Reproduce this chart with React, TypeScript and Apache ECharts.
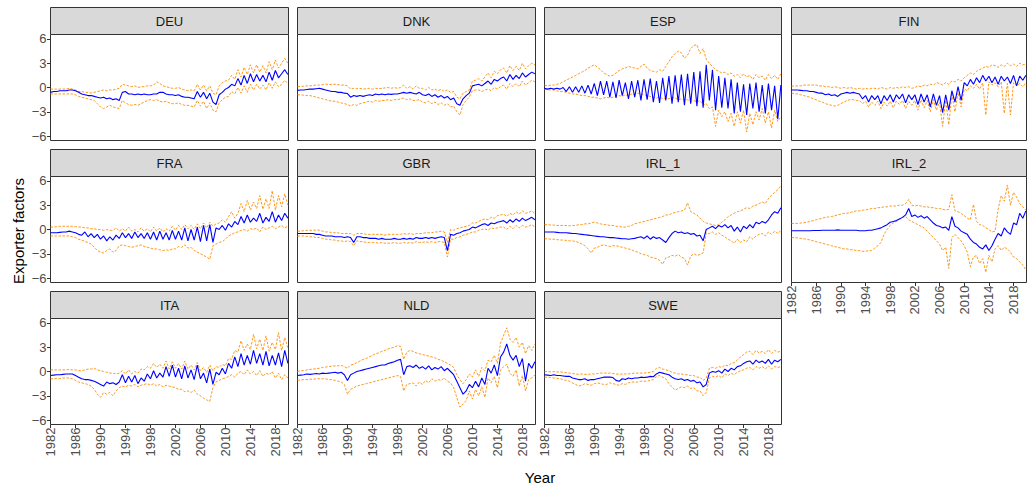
import React, { useEffect, useRef } from "react";
import * as echarts from "echarts";

// Time grid: half-yearly points, 1982.0 .. 2020.0
const years: number[] = Array.from({ length: 77 }, (_, i) => 1982 + i * 0.5);
const xTicks = [1982, 1986, 1990, 1994, 1998, 2002, 2006, 2010, 2014, 2018];
const yTicks = [-6, -3, 0, 3, 6];

// ---- DEU
const deuMid = [
  -0.6, -0.5, -0.5, -0.4, -0.4, -0.4, -0.3, -0.3, -0.4, -0.6,
  -0.8, -0.9, -1.0, -1.0, -1.1, -1.2, -1.3, -1.2, -1.4, -1.3,
  -1.5, -1.4, -1.6, -0.6, -0.5, -0.8, -0.8, -0.9, -0.8, -0.9,
  -0.8, -0.9, -0.9, -0.8, -0.8, -0.6, -0.6, -0.8, -0.9, -0.9,
  -1.0, -0.9, -1.1, -1.2, -1.2, -1.3, -1.4, -0.5, -1.2, -0.6,
  -1.4, -0.7, -1.8, -2.1, -0.9, -0.6, -0.2, 0.0, 0.4, 0.2,
  1.1, 0.3, 1.5, 0.5, 1.7, 0.7, 1.6, 0.8, 1.5, 0.7,
  1.9, 0.9, 2.1, 1.2, 1.7, 2.2, 1.6,
];
const deuHi = [
  -0.2, -0.2, -0.2, -0.2, -0.2, -0.2, -0.1, -0.2, -0.3, -0.5,
  -0.5, -0.6, -0.6, -0.7, -0.6, -0.5, -0.4, -0.3, -0.4, -0.3,
  -0.3, -0.2, -0.1, 0.4, 0.3, 0.2, 0.1, 0.2, 0.0, 0.1,
  0.1, 0.2, 0.2, 0.3, 0.7, 0.5, 0.2, 0.1, 0.0, -0.1,
  -0.1, 0.0, -0.2, -0.3, -0.4, -0.3, -0.4, 0.4, -0.3, 0.3,
  -0.4, 0.2, -0.7, -0.9, 0.2, 0.6, 0.8, 0.9, 1.5, 1.0,
  2.2, 1.3, 2.5, 1.6, 2.8, 1.8, 2.8, 1.9, 2.7, 1.8,
  3.2, 2.2, 3.4, 2.4, 3.0, 3.6, 3.0,
];
const deuLo = [
  -0.8, -0.8, -0.8, -0.8, -0.8, -0.8, -0.8, -0.8, -0.9, -1.1,
  -1.2, -1.3, -1.4, -1.5, -1.6, -2.0, -2.4, -2.6, -2.4, -2.2,
  -2.4, -2.5, -2.6, -1.6, -1.9, -2.1, -2.2, -2.1, -2.2, -2.0,
  -1.8, -1.6, -1.5, -1.6, -1.5, -1.7, -1.8, -1.7, -1.9, -2.0,
  -2.0, -1.9, -2.1, -2.2, -2.2, -2.3, -2.4, -1.6, -2.3, -1.7,
  -2.6, -1.9, -2.8, -3.0, -1.9, -1.5, -1.2, -1.1, -0.5, -0.8,
  0.0, -0.7, 0.2, -0.6, 0.4, -0.3, 0.4, -0.2, 0.3, -0.3,
  0.6, -0.1, 0.7, 0.1, 0.4, 0.9, 0.5,
];

// ---- DNK
const dnkMid = [
  -0.35, -0.3, -0.3, -0.25, -0.2, -0.2, -0.15, -0.1, -0.2, -0.3,
  -0.4, -0.5, -0.5, -0.6, -0.6, -0.7, -0.75, -1.2, -1.0, -1.1,
  -1.0, -1.1, -1.0, -0.9, -1.0, -0.8, -0.9, -0.8, -0.9, -0.8,
  -0.85, -0.8, -0.8, -0.7, -0.6, -0.7, -0.6, -0.7, -0.8, -0.6,
  -0.9, -1.0, -0.8, -1.1, -0.9, -1.2, -1.0, -1.3, -1.1, -1.5,
  -1.3, -2.0, -2.2, -1.4, -1.0, -0.7, 0.2, 0.3, 0.4, 0.2,
  0.5, 0.8, 0.4, 1.0, 0.8, 1.1, 1.3, 0.8, 1.6, 1.0,
  1.5, 1.1, 1.8, 1.3, 1.6, 1.9, 1.7,
];
const dnkHi = [
  0.1, 0.15, 0.15, 0.2, 0.2, 0.25, 0.3, 0.3, 0.35, 0.4,
  0.4, 0.35, 0.4, 0.35, 0.3, 0.3, 0.2, -0.2, -0.1, -0.15,
  -0.1, -0.2, -0.15, -0.1, -0.2, -0.1, -0.15, -0.1, -0.05, 0.0,
  -0.1, 0.0, -0.1, 0.0, 0.3, -0.1, 0.1, -0.2, 0.2, -0.1,
  -0.1, -0.3, 0.0, -0.3, -0.2, -0.4, -0.2, -0.5, -0.3, -0.6,
  -0.5, -1.2, -1.4, -0.7, -0.5, -0.3, 0.8, 0.9, 1.1, 0.8,
  1.3, 1.8, 1.2, 2.0, 1.7, 2.2, 2.4, 1.8, 2.7, 2.1,
  2.6, 2.1, 3.0, 2.3, 2.7, 3.0, 2.8,
];
const dnkLo = [
  -0.9, -0.9, -0.95, -1.0, -1.0, -1.1, -1.2, -1.3, -1.4, -1.5,
  -1.6, -1.7, -1.7, -1.8, -1.9, -2.0, -2.1, -2.3, -2.1, -2.2,
  -2.0, -1.9, -1.8, -1.7, -1.8, -1.6, -1.7, -1.6, -1.6, -1.5,
  -1.6, -1.5, -1.5, -1.4, -1.3, -1.5, -1.4, -1.6, -1.6, -1.5,
  -1.8, -1.9, -1.7, -2.0, -1.8, -2.1, -1.9, -2.2, -2.0, -2.4,
  -2.3, -3.0, -3.4, -2.1, -1.6, -1.2, -0.4, -0.3, -0.3, -0.5,
  -0.3, -0.2, -0.4, 0.0, -0.2, 0.1, 0.3, -0.2, 0.5, 0.1,
  0.5, 0.1, 0.8, 0.3, 0.6, 0.9, 0.7,
];

// ---- ESP
const espMid = [
  -0.1, -0.2, -0.1, -0.2, -0.1, -0.2, 0.0, -0.5, 0.1, -0.6,
  0.1, -0.6, 0.2, -0.7, 0.3, -0.8, 0.5, -1.0, 0.8, -0.9,
  0.8, -1.2, 0.7, -1.3, 0.9, -1.0, 0.6, -1.4, 0.8, -1.2,
  0.9, -1.6, 1.0, -1.5, 1.1, -1.8, 0.8, -1.9, 1.2, -1.6,
  1.4, -2.0, 1.5, -1.8, 1.6, -2.2, 1.7, -2.0, 1.9, -2.3,
  2.0, -2.5, 2.8, -1.6, 2.2, -2.8, 1.4, -2.5, 1.2, -2.6,
  1.0, -3.2, 0.6, -3.0, 0.4, -3.4, 0.5, -2.6, 0.6, -3.0,
  0.3, -3.2, 0.5, -2.8, 0.2, -3.9, 0.3,
];
const espHi = [
  0.3, 0.2, 0.3, 0.3, 0.4, 0.5, 0.7, 0.9, 1.1, 1.3,
  1.5, 1.7, 1.9, 2.1, 2.4, 2.6, 2.8, 2.5, 2.2, 1.8,
  1.6, 1.4, 1.5, 1.8, 2.1, 2.3, 2.4, 2.6, 2.5, 2.4,
  2.3, 2.6, 2.9, 2.4, 2.1, 2.0, 1.9, 2.2, 2.0, 2.6,
  3.2, 3.8, 4.2, 4.5, 4.3, 3.6, 4.0, 4.8, 5.2, 5.3,
  4.2, 4.8, 3.5, 3.0, 2.6, 2.2, 2.0, 1.8, 1.9, 1.6,
  1.8, 1.4, 1.6, 1.2, 1.7, 1.3, 1.5, 1.0, 1.6, 1.2,
  1.4, 0.9, 1.6, 1.1, 1.5, 1.0, 1.7,
];
const espLo = [
  -0.2, -0.3, -0.3, -0.3, -0.4, -0.5, -0.5, -0.6, -0.7, -0.8,
  -0.8, -0.9, -1.0, -1.0, -1.1, -1.2, -1.2, -1.3, -1.4, -1.3,
  -1.2, -1.3, -1.2, -1.1, -1.0, -1.1, -0.9, -1.0, -0.8, -0.9,
  -0.7, -0.8, -0.9, -1.0, -1.1, -1.2, -1.3, -1.2, -1.4, -1.3,
  -1.4, -1.2, -1.3, -1.5, -1.4, -1.6, -1.5, -1.7, -1.6, -1.8,
  -1.6, -2.2, -2.0, -2.6, -2.4, -4.8, -2.8, -3.6, -3.0, -4.2,
  -3.2, -4.8, -3.0, -4.4, -2.8, -5.5, -3.2, -4.6, -3.0, -4.0,
  -2.6, -4.4, -3.0, -5.0, -2.8, -4.2, -3.6,
];

// ---- FIN
const finMid = [
  -0.3, -0.3, -0.3, -0.35, -0.4, -0.4, -0.5, -0.5, -0.6, -0.7,
  -0.7, -0.9, -0.8, -1.0, -0.9, -1.1, -0.8, -0.7, -0.6, -0.7,
  -0.6, -0.7, -0.8, -1.4, -1.0, -1.8, -1.0, -1.5, -1.0, -2.0,
  -1.0, -1.6, -0.9, -1.8, -0.9, -1.4, -0.8, -1.9, -0.9, -1.5,
  -0.9, -2.1, -0.8, -1.8, -0.9, -2.4, -0.8, -2.2, -1.0, -3.1,
  -0.9, -2.8, -0.4, -1.8, 0.1, -1.6, 0.6, 0.2, 1.0, 0.4,
  1.2, 0.6, 1.5, 0.8, 1.4, 0.6, 1.3, 0.4, 1.4, 0.8,
  1.3, 0.5, 1.5, 0.2, 1.4, 0.9, 1.5,
];
const finHi = [
  0.15, 0.2, 0.2, 0.2, 0.3, 0.3, 0.3, 0.3, 0.3, 0.2,
  0.2, 0.1, 0.1, 0.0, 0.1, 0.0, -0.1, 0.0, -0.1, 0.0,
  -0.1, -0.2, -0.1, -0.2, -0.1, -0.2, -0.1, -0.1, -0.2, 0.0,
  -0.1, -0.2, 0.0, -0.1, 0.0, -0.1, 0.1, 0.0, 0.1, -0.1,
  0.0, 0.2, 0.1, 0.3, 0.2, 0.4, 0.3, 0.6, 0.5, 0.3,
  0.6, 0.4, 0.8, 0.7, 1.0, 0.8, 1.2, 1.5, 1.8, 1.6,
  2.0, 2.2, 2.4, 2.6, 2.5, 2.8, 2.7, 2.5, 2.8, 2.6,
  3.0, 2.7, 2.9, 2.6, 3.0, 2.8, 2.9,
];
const finLo = [
  -0.7, -0.75, -0.8, -0.9, -1.0, -1.1, -1.2, -1.4, -1.5, -1.7,
  -1.8, -2.0, -2.1, -2.2, -2.3, -2.2, -2.0, -1.8, -1.6, -1.5,
  -1.5, -1.6, -1.6, -2.0, -1.7, -2.4, -1.8, -2.2, -1.7, -2.6,
  -1.8, -2.3, -1.7, -2.5, -1.7, -2.1, -1.6, -2.6, -1.7, -2.2,
  -1.6, -2.8, -1.5, -2.5, -1.6, -3.0, -1.5, -2.8, -1.8, -4.8,
  -1.6, -4.6, -0.9, -3.0, -0.6, -2.4, -0.2, -0.4, 0.2, -0.1,
  0.4, -0.2, 0.6, -3.4, 0.7, 0.3, 0.6, 0.1, 0.7, -3.2,
  0.5, -3.4, 0.6, 0.2, 0.5, 0.1, 0.6,
];

// ---- FRA
const fraMid = [
  -0.4, -0.4, -0.4, -0.35, -0.3, -0.3, -0.2, -0.3, -0.4, -0.6,
  -0.7, -0.3, -0.9, -0.5, -1.0, -0.6, -1.2, -0.8, -1.4, -0.9,
  -1.3, -0.7, -1.1, -0.4, -1.0, -0.5, -1.1, -0.3, -1.0, -0.5,
  -1.1, -0.4, -1.2, -0.3, -1.3, -0.2, -1.2, -0.4, -1.3, -0.1,
  -1.2, -0.2, -1.3, 0.2, -1.4, 0.0, -1.3, 0.3, -1.5, 0.5,
  -1.4, 0.6, -1.6, 0.2, 0.0, 0.5, -0.1, 0.7, 0.3, 1.0,
  0.6, 1.6, 0.8, 1.8, 0.9, 1.4, 1.0, 2.0, 0.8, 1.5,
  1.0, 2.2, 0.9, 1.8, 1.1, 2.0, 1.4,
];
const fraHi = [
  0.3, 0.3, 0.35, 0.4, 0.4, 0.4, 0.4, 0.4, 0.35, 0.3,
  0.3, 0.2, 0.2, 0.1, 0.1, 0.0, 0.0, -0.1, 0.0, -0.1,
  -0.1, 0.2, -0.2, 0.1, -0.2, 0.3, -0.2, 0.0, -0.3, 0.2,
  -0.2, 0.1, -0.3, 0.3, -0.2, 0.2, -0.3, 0.1, -0.2, 0.4,
  -0.1, 0.5, 0.0, 0.6, 0.1, 0.5, 0.0, 0.7, 0.1, 0.8,
  0.2, 0.9, 0.4, 0.7, 0.8, 1.2, 0.9, 1.6, 2.2, 1.4,
  2.0, 3.2, 2.2, 3.6, 2.4, 3.4, 2.6, 4.2, 2.5, 3.8,
  2.6, 4.8, 2.4, 4.2, 2.8, 4.4, 3.0,
];
const fraLo = [
  -0.8, -0.8, -0.8, -0.8, -0.8, -0.8, -0.8, -0.9, -1.0, -1.2,
  -1.3, -1.5, -1.6, -1.8, -2.2, -2.6, -2.8, -2.9, -2.6, -2.4,
  -2.8, -2.6, -2.0, -1.9, -2.0, -2.1, -2.2, -2.1, -2.0, -1.9,
  -2.1, -2.2, -2.3, -2.4, -2.4, -2.5, -2.6, -2.5, -2.6, -2.4,
  -2.4, -2.1, -2.2, -1.9, -2.3, -2.2, -2.6, -2.8, -3.0, -3.2,
  -3.4, -3.7, -2.0, -1.8, -1.6, -1.5, -1.2, -0.8, -0.6, -0.4,
  -0.3, -0.1, 0.0, -0.2, 0.1, 0.0, 0.2, -0.3, 0.3, 0.0,
  0.2, 0.4, 0.1, 0.3, 0.5, 0.2, 0.4,
];

// ---- GBR
const gbrMid = [
  -0.5, -0.5, -0.5, -0.5, -0.5, -0.5, -0.6, -0.6, -0.7, -0.8,
  -0.8, -0.8, -0.9, -0.9, -0.9, -1.0, -0.9, -1.0, -1.6, -0.9,
  -0.9, -1.0, -1.0, -1.1, -1.1, -1.1, -1.2, -1.1, -1.2, -1.2,
  -1.2, -1.1, -1.2, -1.2, -1.1, -1.2, -1.1, -1.2, -1.0, -1.1,
  -1.1, -1.0, -1.1, -1.0, -1.1, -1.0, -0.9, -1.0, -2.6, -0.6,
  -0.7, -0.5, -0.4, -0.2, -0.1, 0.0, 0.3, 0.2, 0.4, 0.6,
  0.7, 0.5, 0.8, 0.7, 0.9, 1.0, 1.1, 0.8, 1.2, 0.9,
  1.3, 1.0, 1.4, 1.1, 1.3, 1.5, 1.2,
];
const gbrHi = [
  -0.2, -0.2, -0.15, -0.1, -0.1, -0.1, -0.05, -0.1, -0.2, -0.3,
  -0.3, -0.4, -0.4, -0.4, -0.5, -0.5, -0.5, -0.5, -0.7, -0.5,
  -0.5, -0.5, -0.6, -0.6, -0.6, -0.6, -0.6, -0.6, -0.7, -0.6,
  -0.6, -0.6, -0.6, -0.6, -0.5, -0.6, -0.5, -0.6, -0.5, -0.5,
  -0.5, -0.4, -0.4, -0.4, -0.3, -0.3, -0.2, -0.3, -1.6, 0.0,
  -0.1, 0.1, 0.2, 0.3, 0.4, 0.5, 0.8, 0.8, 1.0, 1.2,
  1.3, 1.2, 1.5, 1.4, 1.7, 1.8, 1.9, 1.6, 2.0, 1.8,
  2.2, 1.9, 2.3, 2.0, 2.1, 2.3, 2.0,
];
const gbrLo = [
  -0.8, -0.8, -0.8, -0.85, -0.9, -0.9, -1.0, -1.0, -1.1, -1.2,
  -1.2, -1.3, -1.3, -1.4, -1.4, -1.5, -1.4, -1.5, -2.0, -1.4,
  -1.5, -1.5, -1.6, -1.6, -1.6, -1.6, -1.7, -1.6, -1.7, -1.7,
  -1.7, -1.6, -1.7, -1.7, -1.6, -1.7, -1.6, -1.7, -1.5, -1.6,
  -1.6, -1.5, -1.6, -1.5, -1.6, -1.5, -1.5, -1.6, -3.4, -1.2,
  -1.2, -1.0, -0.9, -0.7, -0.6, -0.5, -0.3, -0.3, -0.1, 0.0,
  0.1, -0.1, 0.2, 0.1, 0.2, 0.3, 0.3, 0.0, 0.4, 0.1,
  0.5, 0.2, 0.5, 0.3, 0.4, 0.6, 0.3,
];

// ---- IRL_1
const irl1Mid = [
  -0.3, -0.3, -0.3, -0.3, -0.35, -0.4, -0.4, -0.4, -0.45, -0.5,
  -0.5, -0.55, -0.6, -0.65, -0.7, -0.75, -0.8, -0.85, -0.9, -0.9,
  -0.95, -1.0, -1.0, -1.05, -1.1, -1.15, -1.15, -1.2, -1.15, -1.1,
  -1.0, -0.9, -1.1, -0.8, -1.2, -0.9, -1.1, -1.0, -1.3, -1.6,
  -1.0, -0.5, -0.2, -0.4, -0.3, -0.5, -0.4, -0.6, -0.5, -0.8,
  -0.7, -1.4, 0.0, 0.2, 0.4, 0.1, 0.5, 0.3, 0.6, 0.2,
  0.5, -0.2, 0.3, -0.3, 0.4, 0.1, 0.6, 0.2, 0.9, 0.7,
  1.0, 0.8, 1.2, 1.8, 2.2, 2.0, 2.7,
];
const irl1Hi = [
  0.6, 0.6, 0.55, 0.55, 0.5, 0.5, 0.5, 0.5, 0.45, 0.5,
  0.5, 0.6, 0.6, 0.7, 0.7, 0.8, 0.9, 0.8, 0.7, 0.6,
  0.6, 0.5, 0.5, 0.4, 0.4, 0.3, 0.3, 0.4, 0.5, 0.7,
  0.8, 0.9, 1.0, 1.1, 1.2, 1.3, 1.4, 1.5, 1.6, 1.8,
  1.8, 2.0, 2.1, 2.2, 2.3, 2.4, 3.3, 2.2, 2.0, 1.8,
  1.4, 1.0, 0.8, 0.7, 0.6, 0.5, 0.6, 0.9, 1.2, 1.6,
  1.8, 2.0, 2.2, 2.3, 2.5, 2.7, 2.6, 2.9, 3.0, 3.2,
  3.4, 3.2, 3.8, 4.2, 4.6, 4.9, 5.4,
];
const irl1Lo = [
  -1.15, -1.15, -1.2, -1.2, -1.25, -1.3, -1.3, -1.35, -1.4, -1.4,
  -1.5, -1.6, -1.8, -2.0, -2.4, -2.9, -2.3, -2.2, -2.0, -1.9,
  -2.0, -2.1, -2.0, -2.0, -2.1, -2.2, -2.3, -2.4, -2.5, -2.7,
  -2.8, -3.0, -3.1, -3.2, -3.4, -3.5, -3.6, -3.8, -4.3, -3.5,
  -3.4, -3.2, -3.3, -3.1, -3.4, -3.6, -4.4, -3.3, -3.0, -3.2,
  -3.1, -2.9, -0.4, -0.5, -0.3, -0.6, -0.4, -0.7, -0.9, -1.2,
  -1.4, -1.7, -1.2, -1.6, -1.3, -1.5, -0.9, -1.2, -0.8, -0.6,
  -0.5, -0.8, -0.3, -0.6, -0.2, -0.5, -0.1,
];

// ---- IRL_2
const irl2Mid = [
  -0.15, -0.15, -0.15, -0.15, -0.15, -0.15, -0.15, -0.12, -0.12, -0.12,
  -0.1, -0.1, -0.1, -0.1, -0.1, -0.05, -0.1, -0.1, -0.1, -0.1,
  -0.1, -0.1, -0.15, -0.15, -0.15, -0.1, -0.1, 0.0, 0.1, 0.2,
  0.4, 0.6, 0.9, 1.0, 1.1, 1.3, 1.5, 1.8, 2.6, 1.6,
  1.8, 1.5, 1.7, 1.4, 1.6, 1.2, 0.8, 0.5, 0.4, 0.2,
  0.3, -0.1, 1.6, 0.4, 0.2, -0.2, -0.4, -0.6, -1.2, -1.6,
  -1.8, -2.2, -2.4, -1.9, -2.6, -2.0, -1.2, -0.5, -0.8, 0.2,
  -0.3, -0.6, 0.8, 0.6, 2.0, 1.4, 2.3,
];
const irl2Hi = [
  0.75, 0.75, 0.75, 0.8, 0.85, 0.9, 1.0, 1.1, 1.2, 1.3,
  1.4, 1.5, 1.55, 1.6, 1.7, 1.8, 1.9, 2.0, 2.0, 2.1,
  2.2, 2.3, 2.3, 2.4, 2.4, 2.5, 2.6, 2.6, 2.7, 2.7,
  2.8, 2.8, 2.9, 2.9, 2.9, 3.0, 3.0, 3.2, 3.7, 3.0,
  2.9, 3.0, 2.9, 2.8, 2.8, 2.7, 2.7, 2.6, 2.6, 2.5,
  2.4, 2.5, 4.3, 2.3, 2.2, 2.0, 1.7, 1.4, 1.2, 3.1,
  1.0, 0.6, 0.5, 0.2, 0.0, -0.3, -0.2, 2.5, 4.2, 3.5,
  5.5, 3.0, 4.6, 4.0, 3.2, 2.8, 2.4,
];
const irl2Lo = [
  -1.0, -1.0, -1.05, -1.1, -1.15, -1.2, -1.3, -1.4, -1.5, -1.6,
  -1.7, -1.8, -1.9, -2.0, -2.1, -2.2, -2.3, -2.4, -2.4, -2.5,
  -2.5, -2.6, -2.6, -2.7, -2.7, -2.6, -2.6, -2.3, -2.0, -1.6,
  -0.6, 0.0, 0.5, 0.8, 1.0, 1.3, 1.5, 1.6, 1.2, 1.0,
  0.8, 0.6, 0.4, 0.2, -0.2, -0.6, -1.0, -1.4, -1.8, -2.6,
  -2.2, -4.8, -1.0, -0.6, -1.0, -1.4, -2.0, -2.8, -4.6, -3.4,
  -3.2, -4.2, -3.6, -5.3, -3.2, -4.0, -2.4, -2.0, -2.6, -2.2,
  -2.4, -2.8, -3.4, -3.6, -4.0, -4.4, -5.0,
];

// ---- ITA
const itaMid = [
  -0.5, -0.45, -0.4, -0.4, -0.35, -0.3, -0.3, -0.3, -0.5, -0.7,
  -0.9, -1.0, -1.0, -1.1, -1.2, -1.4, -1.6, -1.8, -1.3, -1.5,
  -1.4, -1.6, -1.3, -0.4, -1.4, -0.6, -1.3, -0.5, -1.5, -0.8,
  -1.2, -0.3, -0.9, 0.1, -0.8, -0.2, -0.7, 0.6, -0.6, 0.8,
  -0.7, 0.4, -0.9, 0.7, -0.8, 0.2, -1.0, 0.8, -0.9, -0.2,
  -1.4, 0.3, -1.6, -0.1, -0.4, 0.4, -0.3, 1.0, 0.4, 1.8,
  0.6, 2.2, 0.8, 2.0, 0.9, 2.6, 1.0, 2.2, 0.8, 2.5,
  0.7, 2.0, 0.8, 2.3, 0.6, 2.6, 1.0,
];
const itaHi = [
  0.2, 0.2, 0.2, 0.2, 0.2, 0.2, 0.25, 0.2, 0.2, 0.1,
  0.1, 0.2, 0.3, 0.3, 0.4, 0.2, 0.1, 0.0, -0.1, -0.2,
  -0.2, -0.3, -0.2, 0.1, -0.3, 0.2, -0.3, 0.0, -0.2, 0.3,
  0.2, 0.6, 0.4, 1.0, 0.5, 0.9, 0.4, 1.3, 0.3, 1.2,
  0.4, 1.0, 0.3, 1.3, 0.3, 0.8, 0.2, 1.1, 0.1, 0.5,
  -0.1, 0.8, 0.1, 0.6, 0.5, 0.9, 0.7, 1.6, 1.5, 2.6,
  2.4, 3.8, 2.6, 3.4, 2.7, 4.6, 2.8, 4.0, 2.6, 4.4,
  2.5, 3.6, 2.7, 4.8, 2.6, 4.2, 2.9,
];
const itaLo = [
  -0.9, -0.9, -0.85, -0.85, -0.8, -0.8, -0.8, -0.9, -1.1, -1.3,
  -1.4, -1.5, -1.6, -1.8, -2.2, -2.8, -3.2, -2.6, -2.8, -2.6,
  -3.0, -2.4, -2.0, -1.8, -1.9, -1.7, -1.8, -1.6, -1.9, -1.7,
  -1.6, -1.5, -1.7, -1.5, -1.8, -1.6, -1.9, -1.7, -1.8, -1.9,
  -2.0, -2.2, -2.2, -2.5, -2.4, -2.6, -2.3, -2.8, -3.0, -3.3,
  -3.5, -3.7, -2.0, -1.3, -1.1, -0.9, -0.8, -0.6, -0.4, -0.7,
  -0.2, 0.0, -0.4, 0.2, -0.3, 0.0, -0.5, 0.1, -0.6, -0.2,
  -0.4, 0.0, -0.8, -0.2, -1.0, -0.4, -0.8,
];

// ---- NLD
const nldMid = [
  -0.5, -0.45, -0.4, -0.3, -0.35, -0.3, -0.25, -0.3, -0.2, -0.25,
  -0.2, -0.15, -0.1, -0.2, -0.1, -0.4, -1.1, -0.4, -0.2, 0.0,
  0.1, 0.2, 0.3, 0.4, 0.5, 0.6, 0.7, 0.8, 0.8, 1.0,
  1.1, 1.2, 1.4, 1.5, -0.4, 0.6, 0.7, 0.5, 0.8, 0.4,
  0.6, 0.3, 0.7, 0.2, 0.5, 0.3, 0.6, 0.1, 0.4, 0.0,
  -0.4, -1.2, -2.0, -2.8, -2.4, -1.6, -2.0, -1.2, -1.9, -0.8,
  -1.6, 0.4, -0.2, 0.8, -0.5, 1.8, 2.4, 3.4, 2.0, 1.4,
  2.0, 0.6, 1.6, -1.2, 1.0, 0.4, 1.2,
];
const nldHi = [
  0.0, 0.1, 0.1, 0.2, 0.25, 0.3, 0.35, 0.4, 0.5, 0.55,
  0.6, 0.65, 0.7, 0.7, 0.75, 0.6, 0.4, 0.8, 0.9, 1.1,
  1.3, 1.5, 1.6, 1.8, 2.0, 2.2, 2.3, 2.5, 2.6, 2.8,
  2.9, 3.0, 3.2, 3.1, 1.5, 2.4, 2.6, 2.5, 2.3, 2.2,
  2.1, 2.0, 1.9, 1.8, 1.7, 1.5, 1.4, 1.2, 1.0, 0.8,
  0.5, -0.4, -1.0, -1.5, -1.0, -0.3, -0.7, 0.2, -0.6, 0.5,
  0.1, 1.4, 1.2, 2.0, 1.0, 3.5, 4.5, 5.4, 4.0, 3.6,
  4.2, 3.0, 3.6, 2.2, 3.2, 2.6, 3.4,
];
const nldLo = [
  -1.1, -1.05, -1.0, -1.0, -0.95, -0.95, -0.9, -0.9, -0.9, -0.9,
  -1.0, -1.0, -1.1, -1.2, -1.3, -1.6, -2.8, -2.2, -2.0, -1.8,
  -1.7, -1.6, -1.5, -1.4, -1.3, -1.2, -1.1, -1.0, -0.9, -0.8,
  -0.7, -0.6, -0.5, -0.6, -2.4, -1.6, -1.5, -1.4, -1.8, -1.3,
  -1.6, -1.1, -1.4, -0.9, -1.2, -1.0, -1.1, -0.8, -1.2, -1.4,
  -2.0, -3.2, -4.4, -4.0, -3.6, -2.4, -3.4, -2.2, -3.0, -1.9,
  -3.2, -0.8, -1.4, -0.6, -2.0, 0.2, 0.6, 0.9, -0.2, -0.6,
  0.2, -1.8, -0.5, -2.4, -1.0, -0.8, -0.4,
];

// ---- SWE
const sweMid = [
  -0.4, -0.45, -0.5, -0.4, -0.5, -0.5, -0.55, -0.6, -0.6, -0.8,
  -0.9, -1.0, -1.0, -0.9, -1.1, -1.0, -1.0, -0.9, -0.8, -0.7,
  -0.7, -0.7, -0.75, -1.1, -1.2, -0.9, -1.0, -0.8, -0.9, -0.8,
  -0.8, -0.7, -0.75, -0.7, -0.6, -0.65, -0.3, -0.1, -0.2, -0.3,
  -0.4, -0.7, -0.9, -1.0, -0.9, -1.1, -1.0, -1.2, -1.1, -1.4,
  -1.3, -1.9, -1.6, -0.2, 0.0, -0.1, 0.1, -0.2, 0.3, 0.0,
  0.4, 0.2, 0.6, 0.7, 1.0, 1.2, 1.3, 0.9, 1.4, 1.1,
  1.3, 1.0, 1.5, 0.9, 1.4, 1.2, 1.5,
];
const sweHi = [
  0.0, 0.0, -0.05, 0.0, -0.05, -0.05, -0.1, -0.15, -0.2, -0.25,
  -0.3, -0.35, -0.3, -0.35, -0.35, -0.3, -0.3, -0.25, -0.2, -0.2,
  -0.2, -0.2, -0.25, -0.3, -0.35, -0.3, -0.3, -0.3, -0.25, -0.2,
  -0.2, -0.2, -0.2, -0.15, -0.1, 0.0, 0.4, 0.5, 0.3, 0.2,
  0.1, -0.1, -0.2, -0.3, -0.3, -0.4, -0.4, -0.5, -0.5, -0.7,
  -0.7, -1.1, -0.8, 0.4, 0.5, 0.4, 0.6, 0.5, 0.8, 0.7,
  1.0, 1.1, 1.4, 1.8, 2.1, 2.4, 2.5, 2.1, 2.6, 2.3,
  2.5, 2.2, 2.7, 2.2, 2.6, 2.4, 2.5,
];
const sweLo = [
  -0.7, -0.7, -0.75, -0.8, -0.85, -0.9, -1.0, -1.1, -1.2, -1.4,
  -1.6, -1.8, -1.7, -1.5, -1.6, -1.7, -1.5, -1.4, -1.5, -1.6,
  -1.6, -1.4, -1.5, -1.6, -1.7, -1.5, -1.6, -1.4, -1.3, -1.3,
  -1.3, -1.2, -1.2, -1.2, -1.1, -1.0, -0.6, -0.5, -0.7, -0.9,
  -1.5, -1.9, -2.3, -2.1, -1.9, -2.0, -1.8, -2.1, -2.0, -2.4,
  -2.4, -3.0, -2.6, -0.8, -0.6, -0.7, -0.5, -0.8, -0.3, -0.5,
  -0.2, -0.4, -0.1, 0.1, 0.2, 0.4, 0.5, 0.2, 0.6, 0.4,
  0.6, 0.3, 0.7, 0.3, 0.6, 0.5, 0.6,
];

const panelNames = ["DEU", "DNK", "ESP", "FIN", "FRA", "GBR", "IRL_1", "IRL_2", "ITA", "NLD", "SWE"];
const mids = [deuMid, dnkMid, espMid, finMid, fraMid, gbrMid, irl1Mid, irl2Mid, itaMid, nldMid, sweMid];
const his = [deuHi, dnkHi, espHi, finHi, fraHi, gbrHi, irl1Hi, irl2Hi, itaHi, nldHi, sweHi];
const los = [deuLo, dnkLo, espLo, finLo, fraLo, gbrLo, irl1Lo, irl2Lo, itaLo, nldLo, sweLo];

const COL_LEFT = [50.5, 297.5, 544.5, 791.5];
const COL_W = [238, 238, 237, 235];
const ROW_TOP = [34.5, 176.5, 318.5];
const PLOT_H = 106;
const STRIP_H = 27;

const BLUE = "#0000ff";
const ORANGE = "#ff8c00";
const TICK_COL = "#4d4d4d";
const BORDER = "#333333";
const FONT = "'Liberation Sans', Arial, Helvetica, sans-serif";

const fmtY = (v: number) => (v < 0 ? "\u2212" + Math.abs(v) : String(v));

export default function App() {
  const ref = useRef<HTMLDivElement>(null);

  useEffect(() => {
    document.body.style.margin = "0";
    if (!ref.current) return;
    const chart = echarts.init(ref.current, undefined, { renderer: "svg" });

    const grids: any[] = [];
    const xAxes: any[] = [];
    const yAxes: any[] = [];
    const series: any[] = [];
    const graphics: any[] = [];

    panelNames.forEach((name, i) => {
      const row = Math.floor(i / 4);
      const col = i % 4;
      const left = COL_LEFT[col];
      const top = ROW_TOP[row];
      const w = COL_W[col];
      const showX = row === 2 || i === 7;
      const showY = col === 0;

      grids.push({
        left,
        top,
        width: w,
        height: PLOT_H,
        show: true,
        backgroundColor: "#ffffff",
        borderColor: BORDER,
        borderWidth: 1,
        containLabel: false,
      });
      xAxes.push({
        type: "value",
        gridIndex: i,
        position: "bottom",
        min: 1982,
        max: 2020.1,
        axisLine: { show: false, onZero: false },
        splitLine: { show: false },
        axisTick: {
          show: showX,
          customValues: xTicks,
          length: 3.5,
          lineStyle: { color: BORDER, width: 1 },
        },
        axisLabel: {
          show: showX,
          customValues: xTicks,
          rotate: 90,
          margin: 3,
          fontSize: 13,
          fontFamily: FONT,
          color: TICK_COL,
          formatter: (v: number) => String(v),
        },
      });
      yAxes.push({
        type: "value",
        gridIndex: i,
        position: "left",
        min: -6.55,
        max: 6.55,
        axisLine: { show: false, onZero: false },
        splitLine: { show: false },
        axisTick: {
          show: showY,
          customValues: yTicks,
          length: 3.5,
          lineStyle: { color: BORDER, width: 1 },
        },
        axisLabel: {
          show: showY,
          customValues: yTicks,
          margin: 4,
          fontSize: 13,
          fontFamily: FONT,
          color: TICK_COL,
          formatter: fmtY,
        },
      });

      const mk = (arr: number[]) => years.map((y, k) => [y, arr[k]]);
      const orangeStyle = { color: ORANGE, width: 0.9, type: [2.5, 1.5] };
      series.push({
        type: "line",
        xAxisIndex: i,
        yAxisIndex: i,
        data: mk(his[i]),
        showSymbol: false,
        symbol: "none",
        lineStyle: orangeStyle,
        itemStyle: { color: ORANGE },
        silent: true,
        z: 2,
      });
      series.push({
        type: "line",
        xAxisIndex: i,
        yAxisIndex: i,
        data: mk(los[i]),
        showSymbol: false,
        symbol: "none",
        lineStyle: orangeStyle,
        itemStyle: { color: ORANGE },
        silent: true,
        z: 2,
      });
      series.push({
        type: "line",
        xAxisIndex: i,
        yAxisIndex: i,
        data: mk(mids[i]),
        showSymbol: false,
        symbol: "none",
        lineStyle: { color: BLUE, width: 1.1 },
        itemStyle: { color: BLUE },
        silent: true,
        z: 3,
      });

      graphics.push({
        type: "rect",
        shape: { x: left, y: top - STRIP_H, width: w, height: STRIP_H },
        style: { fill: "#d9d9d9", stroke: BORDER, lineWidth: 1 },
        silent: true,
      });
      graphics.push({
        type: "text",
        x: left + w / 2,
        y: top - STRIP_H / 2,
        style: {
          text: name,
          fill: "#1a1a1a",
          fontSize: 13,
          fontFamily: FONT,
          align: "center",
          verticalAlign: "middle",
        },
        silent: true,
      });
    });

    graphics.push({
      type: "text",
      x: 18,
      y: 231,
      rotation: Math.PI / 2,
      style: {
        text: "Exporter factors",
        fill: "#000000",
        fontSize: 15,
        fontFamily: FONT,
        align: "center",
        verticalAlign: "middle",
      },
      silent: true,
    });
    graphics.push({
      type: "text",
      x: 540,
      y: 477,
      style: {
        text: "Year",
        fill: "#000000",
        fontSize: 15,
        fontFamily: FONT,
        align: "center",
        verticalAlign: "middle",
      },
      silent: true,
    });

    chart.setOption({
      animation: false,
      backgroundColor: "#ffffff",
      grid: grids,
      xAxis: xAxes,
      yAxis: yAxes,
      series,
      graphic: graphics,
    });

    return () => {
      chart.dispose();
    };
  }, []);

  return <div ref={ref} style={{ width: 1028, height: 489 }} />;
}
